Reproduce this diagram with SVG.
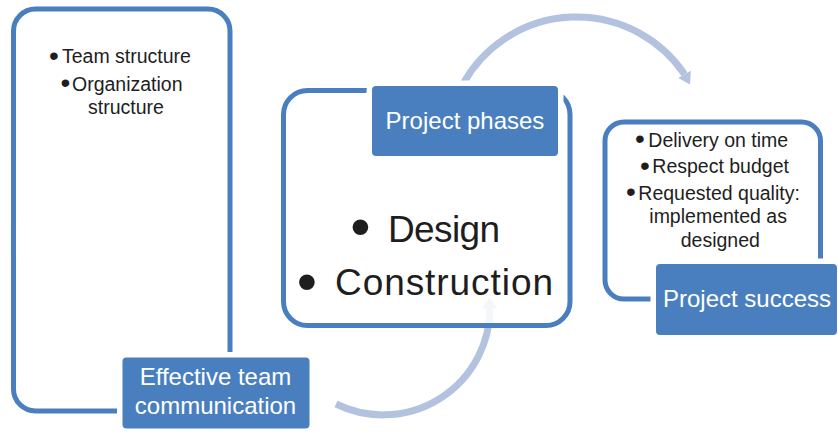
<svg xmlns="http://www.w3.org/2000/svg" width="838" height="448" viewBox="0 0 838 448">
  <style>
    .frame { fill: #ffffff; stroke: #4a7fbf; stroke-width: 5; }
    .frame-soft { fill: #ffffff; fill-opacity: 0.85; stroke: #4a7fbf; stroke-width: 5; }
    .label { fill: #4a7fbf; stroke: #ffffff; stroke-width: 11; paint-order: stroke; }
    .label-text { font-family: "Liberation Sans", Arial, sans-serif; font-size: 24px; fill: #ffffff; text-anchor: middle; }
    .body { font-family: "Liberation Sans", Arial, sans-serif; font-size: 19.5px; fill: #1e1e1e; }
    .bullet { font-family: "Liberation Sans", Arial, sans-serif; font-size: 28px; fill: #1e1e1e; text-anchor: middle; }
    .big { font-family: "Liberation Sans", Arial, sans-serif; font-size: 37px; fill: #1e1e1e; }
    .big-bullet { font-family: "Liberation Sans", Arial, sans-serif; font-size: 58px; fill: #1e1e1e; text-anchor: middle; }
    .arc { fill: none; stroke: #b3c3df; stroke-width: 7; }
    .head { fill: #b3c3df; }
  </style>

  <!-- circular arrows between the stages -->
  <g id="connectors">
    <path class="arc" d="M463,84 A130,130 0 0 1 684.6,74.4"/>
    <polygon class="head" points="690,84.5 678.3,78 690.9,70.8"/>
    <path class="arc" d="M336,404 A107,107 0 0 0 490,308"/>
    <polygon class="head" points="489.5,297.5 482.2,308.5 497.6,308.5"/>
  </g>

  <!-- stage 1: team communication -->
  <g id="node-communication">
    <rect class="frame" x="13.5" y="9" width="216.5" height="402" rx="22"/>
    <text class="bullet" x="54" y="64.5">•</text>
    <text class="body" x="62" y="63.3">Team structure</text>
    <text class="bullet" x="65.5" y="91.7">•</text>
    <text class="body" x="72" y="90.5">Organization</text>
    <text class="body" x="88" y="114.3">structure</text>
    <rect class="label" x="122.5" y="357.5" width="187" height="71" rx="4"/>
    <text class="label-text" x="215.5" y="385">Effective team</text>
    <text class="label-text" x="215.5" y="414">communication</text>
  </g>

  <!-- stage 2: project phases -->
  <g id="node-phases">
    <rect class="frame-soft" x="283.5" y="90.5" width="286.5" height="235" rx="24"/>
    <text class="big-bullet" x="360.5" y="246">•</text>
    <text class="big" x="388" y="242" textLength="112" lengthAdjust="spacing">Design</text>
    <text class="big-bullet" x="307" y="301">•</text>
    <text class="big" x="335" y="295" textLength="218" lengthAdjust="spacing">Construction</text>
    <rect class="label" x="372" y="86" width="186" height="70" rx="4"/>
    <text class="label-text" x="465" y="129">Project phases</text>
  </g>

  <!-- stage 3: project success -->
  <g id="node-success">
    <rect class="frame" x="605" y="122" width="215.5" height="177" rx="19"/>
    <text class="bullet" x="640" y="147.9">•</text>
    <text class="body" x="648.3" y="146.7">Delivery on time</text>
    <text class="bullet" x="645" y="174.5">•</text>
    <text class="body" x="652.3" y="173.3">Respect budget</text>
    <text class="bullet" x="631" y="201.2">•</text>
    <text class="body" x="638.3" y="200">Requested quality:</text>
    <text class="body" x="649.3" y="223.3">implemented as</text>
    <text class="body" x="680.7" y="246.7">designed</text>
    <rect class="label" x="656" y="264" width="181" height="71" rx="4"/>
    <text class="label-text" x="747" y="307">Project success</text>
  </g>
</svg>
